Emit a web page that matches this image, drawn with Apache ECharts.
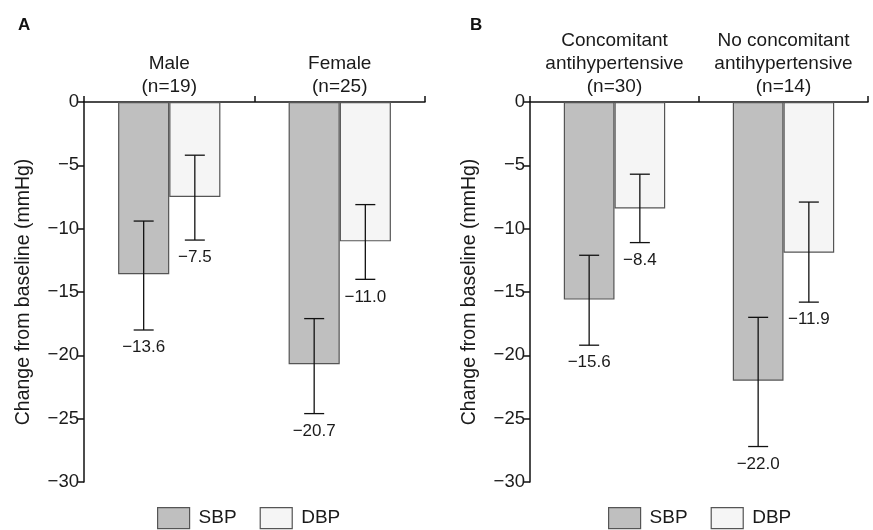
<!DOCTYPE html>
<html>
<head>
<meta charset="utf-8">
<script src="https://cdn.jsdelivr.net/npm/echarts@6/dist/echarts.min.js"></script>
<style>
  html, body { margin: 0; padding: 0; background: #fff; }
  #chart { width: 873px; height: 530px; }
</style>
</head>
<body>
<div id="chart"></div>
<script>
  // panel A: by sex
  const categoriesA = ['Male\n(n=19)', 'Female\n(n=25)'];
  const sbpA = [-13.6, -20.7];
  const dbpA = [-7.5, -11.0];
  const sbpLowA = [-18.0, -24.6];
  const sbpHighA = [-9.4, -17.1];
  const dbpLowA = [-10.9, -14.0];
  const dbpHighA = [-4.2, -8.1];

  // panel B: by antihypertensive use
  const categoriesB = ['Concomitant\nantihypertensive\n(n=30)', 'No concomitant\nantihypertensive\n(n=14)'];
  const sbpB = [-15.6, -22.0];
  const dbpB = [-8.4, -11.9];
  const sbpLowB = [-19.2, -27.2];
  const sbpHighB = [-12.1, -17.0];
  const dbpLowB = [-11.1, -15.8];
  const dbpHighB = [-5.7, -7.9];

  const yMin = -30;
  const yMax = 0;
  const yStep = 5;

  const TEXT = '#1a1a1a';
  const FONT = 'Liberation Sans, Arial, sans-serif';
  const SBP_COLOR = '#bfbfbf';
  const DBP_COLOR = '#f5f5f5';
  const BORDER = '#555555';

  const minus = v => (v < 0 ? '\u2212' : '') + Math.abs(v).toFixed(1);

  function errData(means, lows, highs) {
    return means.map((m, i) => [i, lows[i], highs[i], m]);
  }

  // side: -1 for SBP (left bar), +1 for DBP (right bar)
  function errorBars(side) {
    return function (params, api) {
      const idx = api.value(0);
      const band = api.size([1, 0])[0];
      const x = api.coord([idx, 0])[0] + side * band * 0.15;
      const yLow = api.coord([idx, api.value(1)])[1];
      const yHigh = api.coord([idx, api.value(2)])[1];
      const cap = 10;
      const st = { stroke: '#111', lineWidth: 1.3 };
      return {
        type: 'group',
        children: [
          { type: 'line', shape: { x1: x, y1: yHigh, x2: x, y2: yLow }, style: st },
          { type: 'line', shape: { x1: x - cap, y1: yHigh, x2: x + cap, y2: yHigh }, style: st },
          { type: 'line', shape: { x1: x - cap, y1: yLow, x2: x + cap, y2: yLow }, style: st },
          {
            type: 'text',
            x: x, y: yLow + 9,
            style: {
              text: minus(api.value(3)),
              fill: TEXT, font: '17px ' + FONT,
              align: 'center', verticalAlign: 'top'
            }
          }
        ]
      };
    };
  }

  function xAxis(gridIndex, data) {
    return {
      type: 'category', gridIndex: gridIndex, position: 'top', data: data,
      axisLine: { lineStyle: { color: '#111', width: 1.5 } },
      axisTick: { show: true, length: 6, interval: 0, lineStyle: { color: '#111', width: 1.5 } },
      axisLabel: { color: TEXT, fontSize: 19, fontFamily: FONT, lineHeight: 23, margin: 4, interval: 0 },
      splitLine: { show: false }
    };
  }

  function yAxis(gridIndex) {
    return {
      type: 'value', gridIndex: gridIndex, min: yMin, max: yMax, interval: yStep,
      name: 'Change from baseline (mmHg)', nameLocation: 'middle', nameGap: 50,
      nameTextStyle: { color: TEXT, fontSize: 19.5, fontFamily: FONT },
      axisLine: { show: true, lineStyle: { color: '#111', width: 1.5 } },
      axisTick: { show: true, length: 7, lineStyle: { color: '#111', width: 1.5 } },
      axisLabel: {
        color: TEXT, fontSize: 18.5, fontFamily: FONT, margin: 5,
        formatter: v => (v < 0 ? '\u2212' : '') + Math.abs(v)
      },
      splitLine: { show: false }
    };
  }

  function bars(name, data, color, axisIndex) {
    return {
      name: name, type: 'bar', data: data,
      xAxisIndex: axisIndex, yAxisIndex: axisIndex,
      barWidth: '30%', barGap: '0%',
      itemStyle: { color: color, borderColor: BORDER, borderWidth: 1.2 },
      emphasis: { disabled: true }
    };
  }

  function errSeries(data, side, axisIndex) {
    return {
      type: 'custom', xAxisIndex: axisIndex, yAxisIndex: axisIndex,
      renderItem: errorBars(side), data: data, z: 5, silent: true
    };
  }

  function legend(left) {
    return {
      left: left, top: 507, itemWidth: 32, itemHeight: 21, itemGap: 23,
      icon: 'rect', selectedMode: false, padding: 0,
      textStyle: { color: TEXT, fontSize: 19, fontFamily: FONT, padding: [0, 0, 0, 4] },
      data: [
        { name: 'SBP', itemStyle: { color: SBP_COLOR, borderColor: BORDER, borderWidth: 1.2 } },
        { name: 'DBP', itemStyle: { color: DBP_COLOR, borderColor: BORDER, borderWidth: 1.2 } }
      ]
    };
  }

  const chart = echarts.init(document.getElementById('chart'));
  chart.setOption({
    animation: false,
    textStyle: { fontFamily: FONT },
    title: [
      { text: 'A', left: 13, top: 12, textStyle: { fontSize: 17, fontWeight: 'bold', color: '#111' } },
      { text: 'B', left: 465, top: 12, textStyle: { fontSize: 17, fontWeight: 'bold', color: '#111' } }
    ],
    legend: [legend(157), legend(608)],
    grid: [
      { left: 84, top: 102, width: 341, height: 380 },
      { left: 530, top: 102, width: 338, height: 380 }
    ],
    xAxis: [xAxis(0, categoriesA), xAxis(1, categoriesB)],
    yAxis: [yAxis(0), yAxis(1)],
    series: [
      bars('SBP', sbpA, SBP_COLOR, 0),
      bars('DBP', dbpA, DBP_COLOR, 0),
      bars('SBP', sbpB, SBP_COLOR, 1),
      bars('DBP', dbpB, DBP_COLOR, 1),
      errSeries(errData(sbpA, sbpLowA, sbpHighA), -1, 0),
      errSeries(errData(dbpA, dbpLowA, dbpHighA), 1, 0),
      errSeries(errData(sbpB, sbpLowB, sbpHighB), -1, 1),
      errSeries(errData(dbpB, dbpLowB, dbpHighB), 1, 1)
    ]
  });
</script>
</body>
</html>
